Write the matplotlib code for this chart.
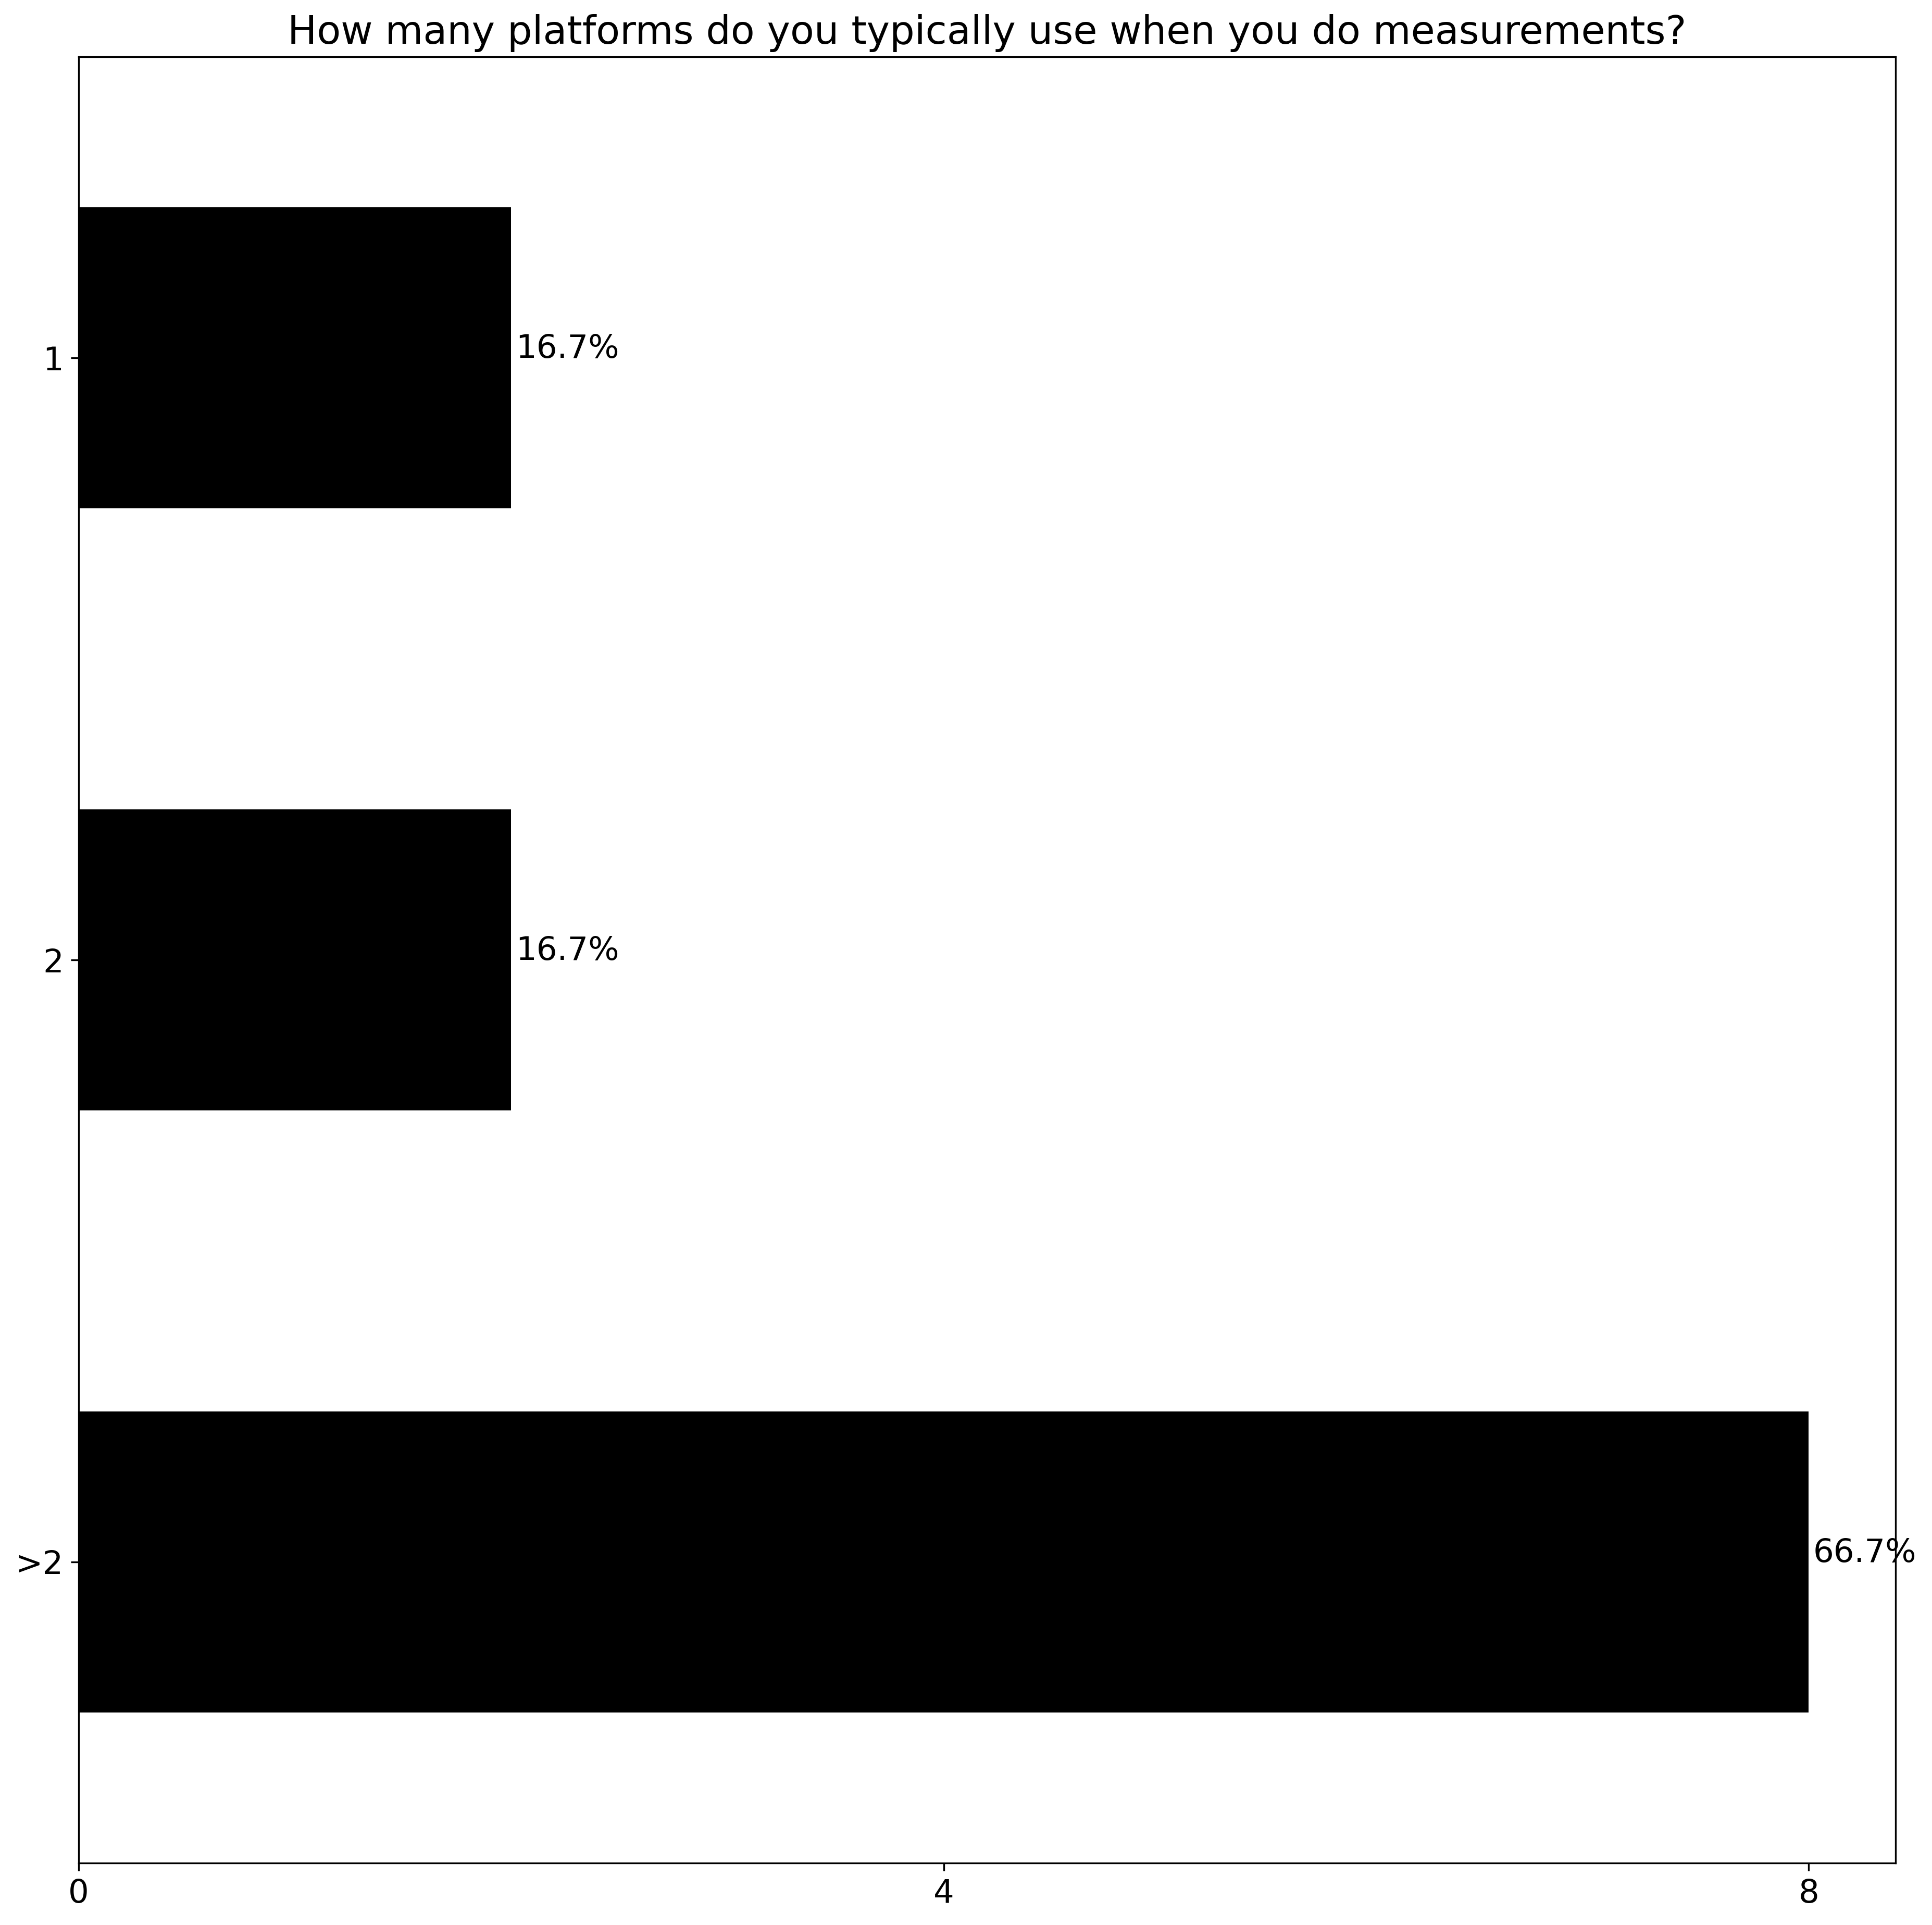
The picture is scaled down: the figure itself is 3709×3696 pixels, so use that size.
import matplotlib.pyplot as plt
import numpy as np

categories = ['1', '2', '>2']
counts = [2, 2, 8]
percents = [16.7, 16.7, 66.7]
xticks = [0, 4, 8]

fig, ax = plt.subplots(figsize=(3709 / 300, 3696 / 300), dpi=300)
fig.subplots_adjust(left=0.0407, right=0.981, bottom=0.0322, top=0.9705)

y = np.arange(len(categories))
ax.barh(y, counts, height=0.5, color='black')
for i, (c, p) in enumerate(zip(counts, percents)):
    ax.text(c + 0.02, i, f'{p}%', fontsize=15)

ax.set_yticks(y)
ax.set_yticklabels(categories, fontsize=15)
ax.set_xticks(xticks)
ax.tick_params(axis='x', labelsize=15)
ax.set_xlim(0, 8.4)
ax.set_ylim(2.5, -0.5)
ax.set_title('How many platforms do you typically use when you do measurements?', fontsize=18)

plt.savefig('out.png', dpi=300)
